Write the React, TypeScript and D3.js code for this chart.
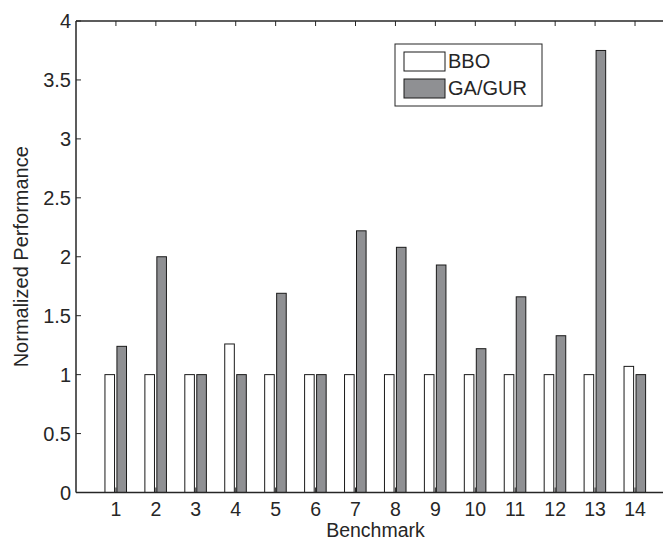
import React, { useEffect, useRef } from "react";
import { select, scaleLinear, range } from "d3";

const benchmarks = [1, 2, 3, 4, 5, 6, 7, 8, 9, 10, 11, 12, 13, 14];
const bboValues = [1, 1, 1, 1.26, 1, 1, 1, 1, 1, 1, 1, 1, 1, 1.07];
const gaValues = [1.24, 2.0, 1, 1, 1.69, 1, 2.22, 2.08, 1.93, 1.22, 1.66, 1.33, 3.75, 1];
const yTicks = [0, 0.5, 1, 1.5, 2, 2.5, 3, 3.5, 4];
const seriesNames = ["BBO", "GA/GUR"];
const seriesColors = ["#ffffff", "#8f9093"];

const FONT = "'Liberation Sans', Arial, Helvetica, sans-serif";
const INK = "#262626";

const App = () => {
  const ref = useRef<SVGSVGElement>(null);

  useEffect(() => {
    const svg = select(ref.current);
    svg.selectAll("*").remove();
    const width = 663;
    const height = 541;
    const margin = { left: 76, top: 21, bottom: 48.5 };
    const x = scaleLinear().domain([0, 15]).range([margin.left, margin.left + 15 * 39.93]);
    const y = scaleLinear().domain([0, 4]).range([height - margin.bottom, margin.top]);
    const unit = x(1) - x(0);
    const barW = 0.24 * unit;
    const offsets = [-0.155, 0.145];

    svg.append("rect").attr("width", width).attr("height", height).attr("fill", "#fff");

    // bars, both series
    [bboValues, gaValues].forEach((vals, s) => {
      svg
        .append("g")
        .selectAll("rect")
        .data(vals)
        .enter()
        .append("rect")
        .attr("x", (d, i) => x(benchmarks[i] + offsets[s]) - barW / 2)
        .attr("y", (d) => y(d))
        .attr("width", barW)
        .attr("height", (d) => y(0) - y(d))
        .attr("fill", seriesColors[s])
        .attr("stroke", "#1a1a1a")
        .attr("stroke-width", 1);
    });

    // axes box
    const x0 = x(0);
    const x1 = x(15);
    const yb = y(0);
    const yt = y(4);
    const axis = svg.append("g").attr("stroke", INK).attr("stroke-width", 1.5).attr("fill", "none");
    axis.append("line").attr("x1", x0).attr("x2", x1).attr("y1", yb).attr("y2", yb);
    axis.append("line").attr("x1", x0).attr("x2", x1).attr("y1", yt).attr("y2", yt);
    axis.append("line").attr("x1", x0).attr("x2", x0).attr("y1", yt).attr("y2", yb);
    axis.append("line").attr("x1", x1).attr("x2", x1).attr("y1", yt).attr("y2", yb);

    const tickLen = 5;
    benchmarks.forEach((b) => {
      axis.append("line").attr("x1", x(b)).attr("x2", x(b)).attr("y1", yb).attr("y2", yb - tickLen).attr("stroke-width", 1);
      axis.append("line").attr("x1", x(b)).attr("x2", x(b)).attr("y1", yt).attr("y2", yt + tickLen).attr("stroke-width", 1);
    });
    yTicks.forEach((t) => {
      axis.append("line").attr("x1", x0).attr("x2", x0 + tickLen).attr("y1", y(t)).attr("y2", y(t)).attr("stroke-width", 1);
      axis.append("line").attr("x1", x1).attr("x2", x1 - tickLen).attr("y1", y(t)).attr("y2", y(t)).attr("stroke-width", 1);
    });

    // tick labels
    svg
      .append("g")
      .selectAll("text")
      .data(benchmarks)
      .enter()
      .append("text")
      .attr("x", (d) => x(d))
      .attr("y", 515.8)
      .attr("text-anchor", "middle")
      .attr("font-family", FONT)
      .attr("font-size", 19.5)
      .attr("fill", INK)
      .text((d) => d);

    svg
      .append("g")
      .selectAll("text")
      .data(yTicks)
      .enter()
      .append("text")
      .attr("x", x0 - 5)
      .attr("y", (d) => y(d) + 7)
      .attr("text-anchor", "end")
      .attr("font-family", FONT)
      .attr("font-size", 20)
      .attr("fill", INK)
      .text((d) => d);

    // axis titles
    svg
      .append("text")
      .attr("x", (x0 + x1) / 2)
      .attr("y", 536.8)
      .attr("text-anchor", "middle")
      .attr("font-family", FONT)
      .attr("font-size", 19.5)
      .attr("fill", INK)
      .text("Benchmark");
    svg
      .append("text")
      .attr("transform", `translate(28,${(yt + yb) / 2}) rotate(-90)`)
      .attr("text-anchor", "middle")
      .attr("font-family", FONT)
      .attr("font-size", 20)
      .attr("fill", INK)
      .text("Normalized Performance");

    // legend
    const lg = svg.append("g").attr("transform", "translate(395,44)");
    lg.append("rect").attr("width", 147).attr("height", 62).attr("fill", "#fff").attr("stroke", INK).attr("stroke-width", 1);
    range(2).forEach((s) => {
      lg.append("rect")
        .attr("x", 9)
        .attr("y", 8 + s * 27)
        .attr("width", 41)
        .attr("height", 19)
        .attr("fill", seriesColors[s])
        .attr("stroke", "#1a1a1a")
        .attr("stroke-width", 1);
      lg.append("text")
        .attr("x", 53)
        .attr("y", 24 + s * 27)
        .attr("font-family", FONT)
        .attr("font-size", 20)
        .attr("fill", INK)
        .text(seriesNames[s]);
    });
  }, []);

  return (
    <svg
      ref={ref}
      width={663}
      height={541}
      style={{ position: "absolute", left: 0, top: 0, display: "block" }}
    ></svg>
  );
};

export default App;
